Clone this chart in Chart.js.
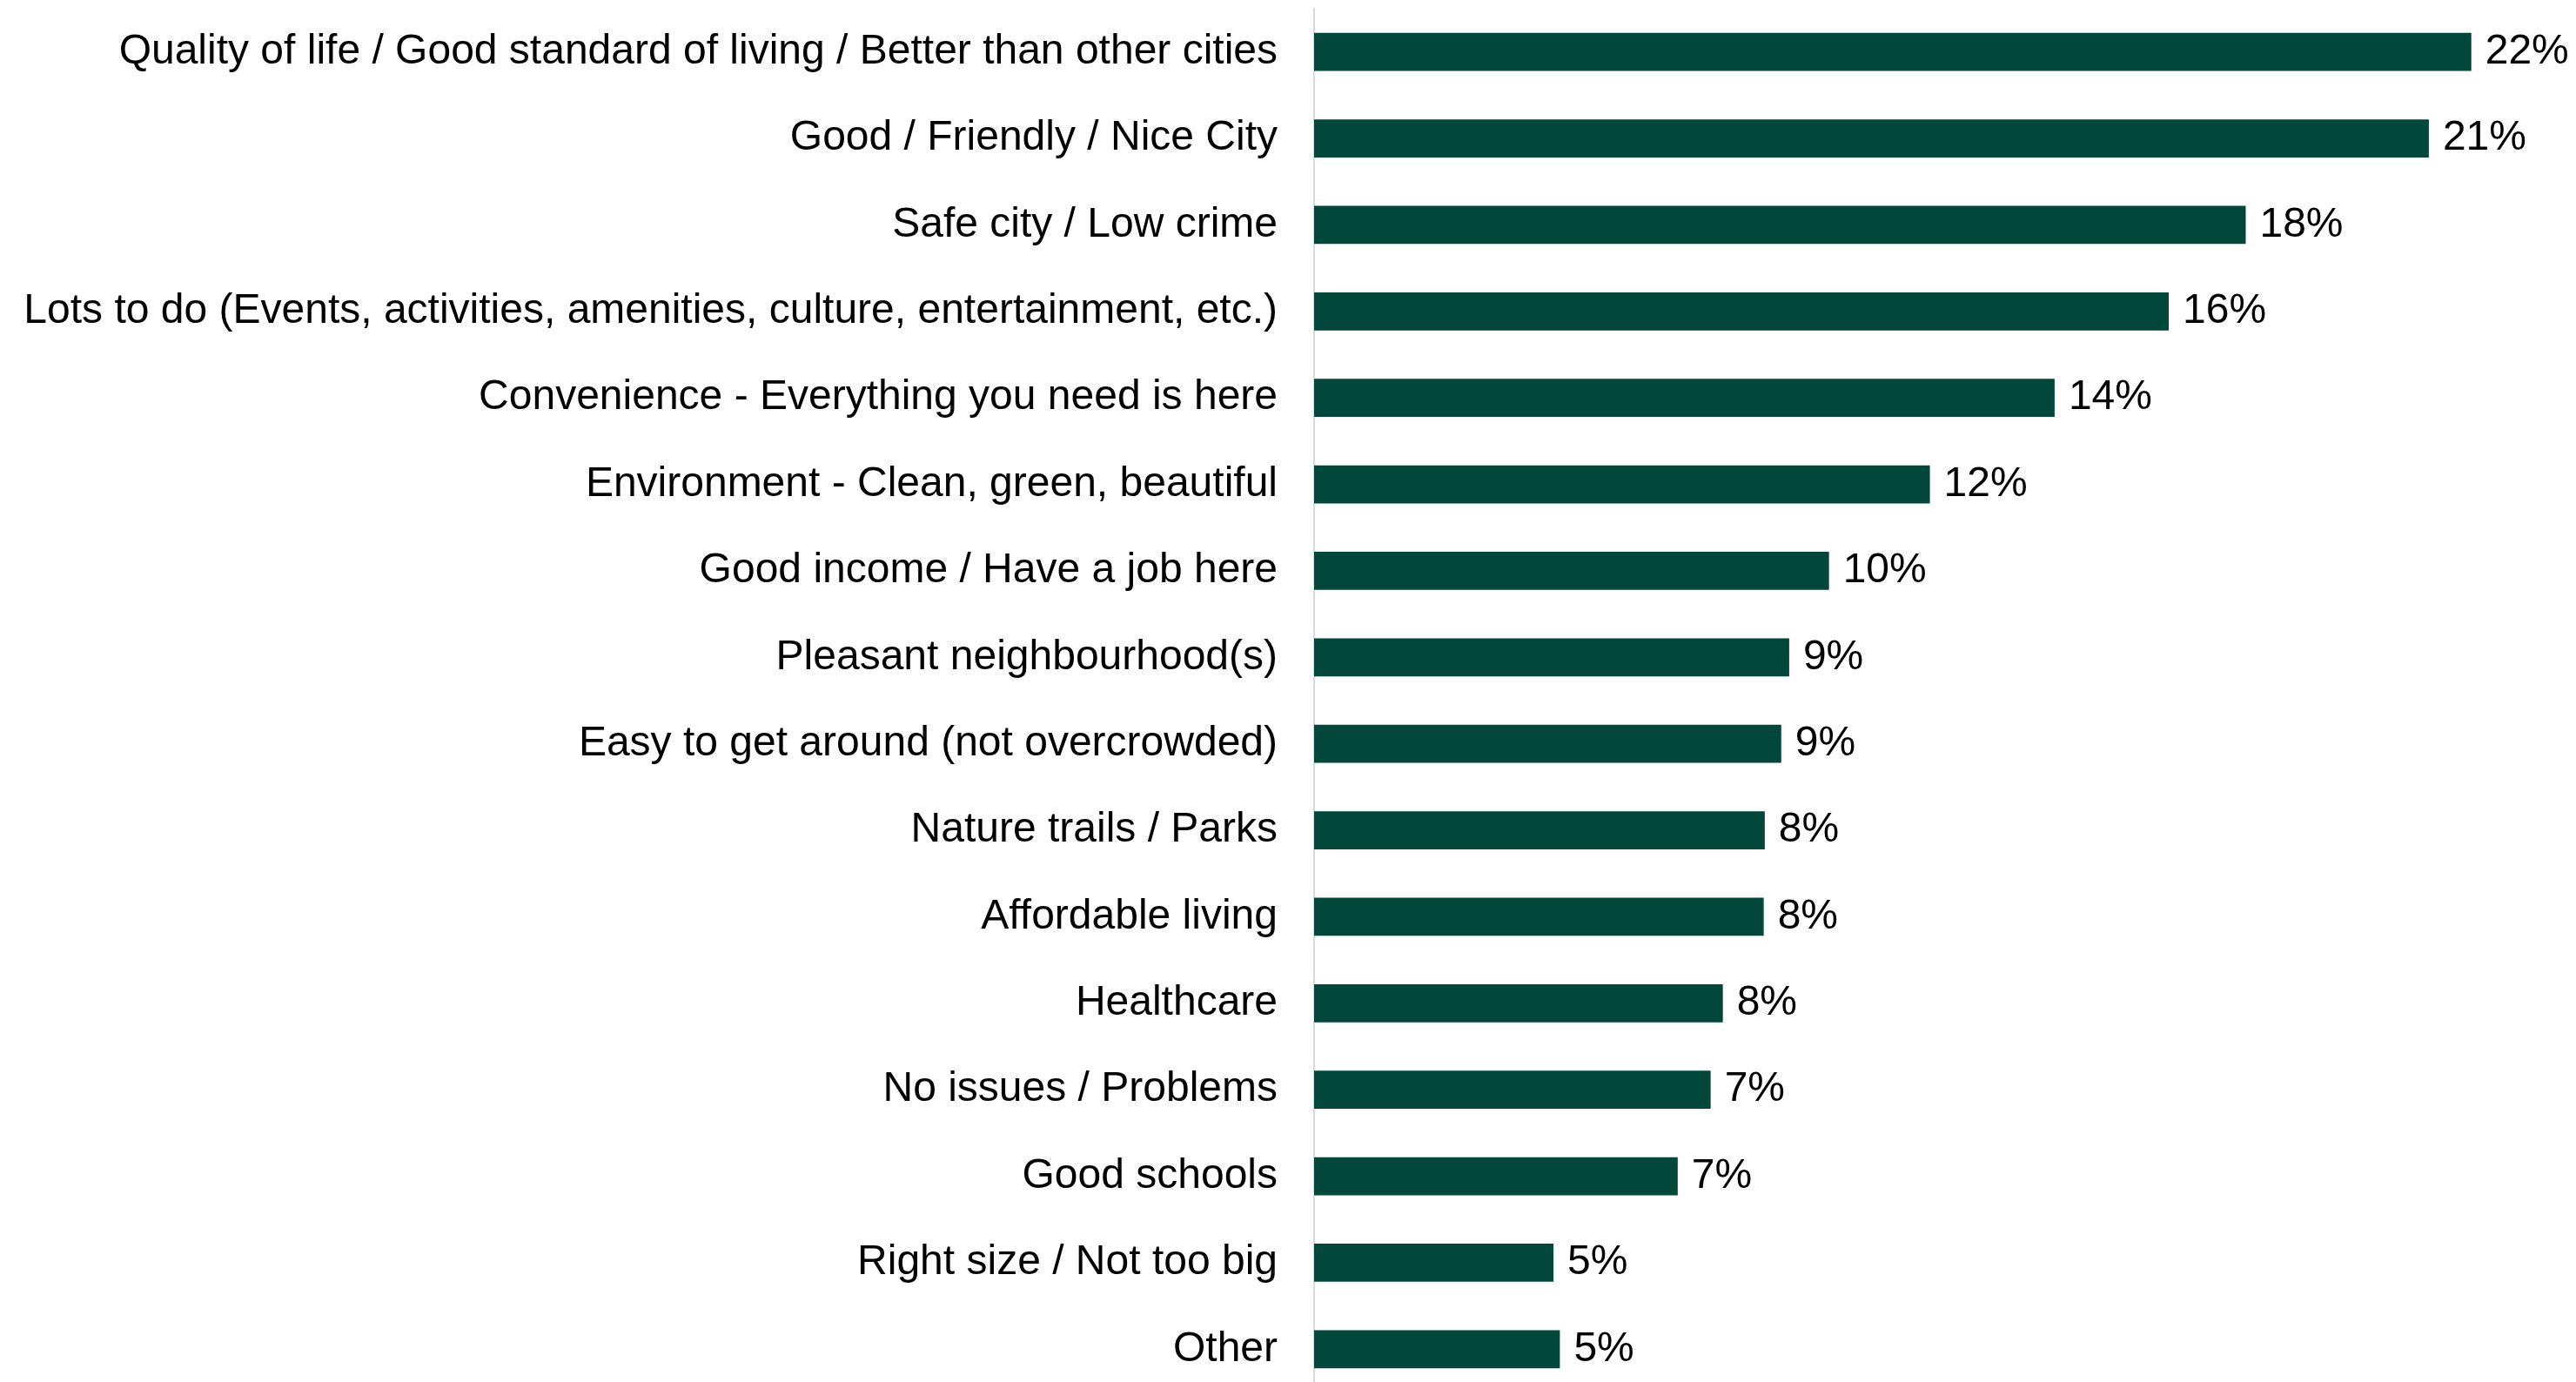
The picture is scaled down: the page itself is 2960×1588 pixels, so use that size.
<!DOCTYPE html>
<html>
<head>
<meta charset="utf-8">
<script src="https://cdn.jsdelivr.net/npm/chart.js@4/dist/chart.umd.min.js"></script>
<style>
    html, body { margin: 0; padding: 0; width: 2960px; height: 1588px; overflow: hidden; background: #fff; }
    #wrap { width: 2960px; height: 1600px; }
</style>
</head>
<body>
<div id="wrap"><canvas id="bars" width="2960" height="1600"></canvas></div>
<script>
const categories = [
    'Quality of life / Good standard of living / Better than other cities',
    'Good / Friendly / Nice City',
    'Safe city / Low crime',
    'Lots to do (Events, activities, amenities, culture, entertainment, etc.)',
    'Convenience - Everything you need is here',
    'Environment - Clean, green, beautiful',
    'Good income / Have a job here',
    'Pleasant neighbourhood(s)',
    'Easy to get around (not overcrowded)',
    'Nature trails / Parks',
    'Affordable living',
    'Healthcare',
    'No issues / Problems',
    'Good schools',
    'Right size / Not too big',
    'Other'
];

// share of respondents (%)
const shares = [21.8, 21.0, 17.55, 16.1, 13.95, 11.6, 9.7, 8.95, 8.8, 8.49, 8.47, 7.7, 7.47, 6.85, 4.51, 4.63];

const barColor = '#01473a';
const labelFont = { family: "'Liberation Sans', Arial, sans-serif", size: 48 };

// prints the rounded value at the end of each bar
const valueLabels = {
    id: 'valueLabels',
    afterDatasetsDraw(chart) {
        const ctx = chart.ctx;
        const meta = chart.getDatasetMeta(0);
        ctx.save();
        ctx.font = labelFont.size + 'px ' + labelFont.family;
        ctx.fillStyle = '#000';
        ctx.textAlign = 'left';
        ctx.textBaseline = 'middle';
        meta.data.forEach((bar, i) => {
            ctx.fillText(Math.round(shares[i]) + '%', bar.x + 16, bar.y);
        });
        ctx.restore();
    }
};

new Chart(document.getElementById('bars'), {
    type: 'bar',
    data: {
        labels: categories,
        datasets: [{
            data: shares,
            backgroundColor: barColor,
            barPercentage: 0.44,
            categoryPercentage: 1
        }]
    },
    options: {
        indexAxis: 'y',
        responsive: false,
        animation: false,
        layout: { padding: { top: 10, right: 41, bottom: 0, left: 0 } },
        plugins: {
            legend: { display: false },
            tooltip: { enabled: false }
        },
        scales: {
            x: {
                display: false,
                min: 0,
                max: 23.1
            },
            y: {
                grid: { display: false, drawTicks: false },
                border: { display: true, color: '#d9d9d9', width: 2 },
                ticks: {
                    color: '#000',
                    font: labelFont,
                    padding: 42,
                    autoSkip: false
                },
                afterFit(scale) {
                    scale.width = 1510;
                    scale.paddingTop = 0;
                    scale.paddingBottom = 0;
                }
            }
        }
    },
    plugins: [valueLabels]
});
</script>
</body>
</html>
